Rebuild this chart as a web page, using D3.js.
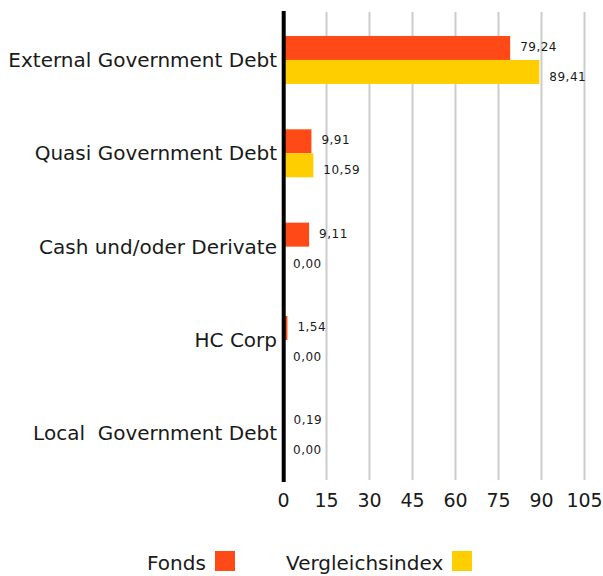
<!DOCTYPE html>
<html>
<head>
<meta charset="utf-8">
<script src="https://cdn.jsdelivr.net/npm/d3@7"></script>
<style>
  html, body { margin: 0; padding: 0; background: #fff; }
  svg { display: block; font-family: "DejaVu Sans", sans-serif; }
</style>
</head>
<body>
<svg id="chart" width="603" height="576"></svg>
<script>
const categories = ["External Government Debt", "Quasi Government Debt", "Cash und/oder Derivate", "HC Corp", "Local  Government Debt"];
const seriesNames = ["Fonds", "Vergleichsindex"];
const fondsValues = [79.24, 9.91, 9.11, 1.54, 0.19];
const indexValues = [89.41, 10.59, 0.00, 0.00, 0.00];
const tickValues = [0, 15, 30, 45, 60, 75, 90, 105];
const colors = ["#FF4A17", "#FFCE00"];

const svg = d3.select("#chart");
const x = d3.scaleLinear().domain([0, 105]).range([283, 584]);
const y = d3.scaleBand().domain(categories).range([13.3, 480]);
const sub = d3.scaleBand().domain(seriesNames).range([0, 48]);
const fmt = v => d3.format(".2f")(v).replace(".", ",");

const data = categories.map((c, i) => ({cat: c, vals: [fondsValues[i], indexValues[i]]}));

// gridlines via axis
const grid = svg.append("g").attr("transform", "translate(0,480)")
  .call(d3.axisBottom(x).tickValues(tickValues).tickSize(-468).tickFormat(""));
grid.select(".domain").remove();
grid.selectAll("line").attr("stroke", "#cccccc").attr("stroke-width", 2);

// tick labels
const ax = svg.append("g").attr("transform", "translate(0,480)")
  .call(d3.axisBottom(x).tickValues(tickValues).tickSize(0).tickPadding(0).tickFormat(d3.format("d")));
ax.select(".domain").remove();
ax.selectAll("text").attr("y", 27).attr("dy", null)
  .attr("font-size", 19).attr("fill", "#1a1a1a").attr("font-family", "DejaVu Sans");

// bars
const groups = svg.append("g").selectAll("g").data(data).join("g")
  .attr("transform", d => `translate(0,${y(d.cat) + y.bandwidth() / 2 - 24})`);

groups.selectAll("rect").data(d => d.vals.map((v, j) => ({v, s: seriesNames[j], j})))
  .join("rect")
  .attr("x", x(0))
  .attr("y", d => sub(d.s))
  .attr("width", d => x(d.v) - x(0))
  .attr("height", sub.bandwidth())
  .attr("fill", d => colors[d.j]);

groups.selectAll("text").data(d => d.vals.map((v, j) => ({v, s: seriesNames[j], j})))
  .join("text")
  .attr("x", d => x(d.v) + 10)
  .attr("y", d => sub(d.s) + sub.bandwidth() / 2 + (d.j === 0 ? 3 : 9))
  .attr("font-size", 12)
  .attr("letter-spacing", 0.5)
  .attr("fill", "#1a1a1a")
  .text(d => fmt(d.v));

// category labels
svg.append("g").selectAll("text").data(categories).join("text")
  .attr("x", 277)
  .attr("y", d => y(d) + y.bandwidth() / 2 + 7)
  .attr("text-anchor", "end")
  .attr("font-size", 20)
  .attr("fill", "#1a1a1a")
  .style("white-space", "pre")
  .attr("xml:space", "preserve")
  .text(d => d);

// zero axis line
svg.append("line")
  .attr("x1", x(0) + 0.7).attr("x2", x(0) + 0.7)
  .attr("y1", 11).attr("y2", 482)
  .attr("stroke", "#000").attr("stroke-width", 4);

// legend
const legendItems = [
  {name: "Fonds", tx: 147, sx: 215, c: colors[0]},
  {name: "Vergleichsindex", tx: 286, sx: 452, c: colors[1]}
];
const lg = svg.append("g").selectAll("g").data(legendItems).join("g");
lg.append("text").attr("x", d => d.tx).attr("y", 570).attr("font-size", 20)
  .attr("fill", "#1a1a1a").text(d => d.name);
lg.append("rect").attr("x", d => d.sx).attr("y", 551).attr("width", 20).attr("height", 20)
  .attr("fill", d => d.c);
</script>
</body>
</html>
